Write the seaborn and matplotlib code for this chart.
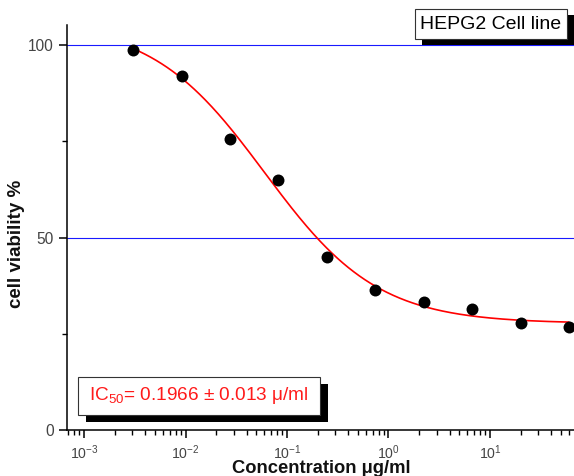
import numpy as np
import pandas as pd
import matplotlib
matplotlib.use("Agg")
import matplotlib.pyplot as plt
from matplotlib.patches import Rectangle
from matplotlib.ticker import LogLocator, NullFormatter, FixedLocator
import seaborn as sns

# Measured cell viability of HEPG2 cells after treatment (threefold dilution series)
concentration = [0.00305, 0.00914, 0.0274, 0.0823, 0.247, 0.741, 2.22, 6.67, 20.0, 60.0]
viability = [98.7, 91.9, 75.5, 64.9, 45.0, 36.4, 33.3, 31.4, 27.7, 26.8]

# Dose-response (4-parameter logistic) fit parameters
fit_bottom = 27.67
fit_top = 106.03
fit_log_x0 = -1.22
fit_hill = 0.78

y_ticks = [0, 50, 100]
y_minor_ticks = [25, 75]
ref_levels = [50, 100]

title_text = "HEPG2 Cell line"
ic50_text = "IC$_\\mathregular{50}$= 0.1966 ± 0.013 μ/ml"

sns.set_theme(style="ticks")
plt.rcParams["font.family"] = ["Liberation Sans", "DejaVu Sans"]
plt.rcParams["mathtext.fontset"] = "custom"
plt.rcParams["mathtext.rm"] = "Liberation Sans"
plt.rcParams["mathtext.it"] = "Liberation Sans:italic"
plt.rcParams["mathtext.bf"] = "Liberation Sans:bold"

W, H = 574, 476
fig = plt.figure(figsize=(W / 100, H / 100), dpi=100)


def fx(px):
    return px / W


def fy(py):
    return 1 - py / H


ax = fig.add_axes([fx(67), fy(430), fx(574 - 67), (430 - 25) / H])

df = pd.DataFrame({"conc": concentration, "viab": viability})

# smooth fitted curve over the measured range
xs = np.logspace(np.log10(concentration[0]), np.log10(concentration[-1]), 400)
ys = fit_bottom + (fit_top - fit_bottom) / (1 + 10 ** (fit_hill * (np.log10(xs) - fit_log_x0)))
curve = pd.DataFrame({"conc": xs, "viab": ys})

for lvl in ref_levels:
    ax.axhline(lvl, color="#1a1aff", lw=0.8, zorder=1)

sns.lineplot(data=curve, x="conc", y="viab", color="#ff0000", lw=1.2, ax=ax, zorder=2)
sns.scatterplot(data=df, x="conc", y="viab", color="black", s=74, linewidth=0,
                ax=ax, zorder=3, clip_on=False)

ax.set_xscale("log")
ax.set_xlim(10 ** -3.1675, 10 ** 1.8276)
ax.set_ylim(0, 105.2)
ax.yaxis.set_major_locator(FixedLocator(y_ticks))
ax.yaxis.set_minor_locator(FixedLocator(y_minor_ticks))
ax.xaxis.set_major_locator(LogLocator(base=10, numticks=12))
ax.xaxis.set_minor_locator(LogLocator(base=10, subs=np.arange(2, 10), numticks=12))
ax.xaxis.set_minor_formatter(NullFormatter())

for side in ["top", "right"]:
    ax.spines[side].set_visible(False)
for side in ["left", "bottom"]:
    ax.spines[side].set_linewidth(1.1)
    ax.spines[side].set_color("black")

ax.tick_params(axis="both", which="major", direction="out", length=5.8, width=1.1,
               color="black", labelcolor="#444444")
ax.tick_params(axis="both", which="minor", direction="out", length=3.4, width=1.0, color="black")
ax.tick_params(axis="y", which="major", labelsize=11.2, pad=3.5)
ax.tick_params(axis="x", which="major", labelsize=10.2, pad=3.5)
ax.set_xlabel("")
ax.set_ylabel("")

fig.text(fx(17), fy(244), "cell viability %", rotation=90, ha="center", va="center",
         fontsize=13.5, fontweight="bold", color="#111111")
fig.text(fx(321), fy(473), "Concentration μg/ml", ha="center", va="baseline",
         fontsize=13.2, fontweight="bold", color="#111111")


def shadow_box(x0, y0, x1, y1, dx, dy):
    fig.patches.append(Rectangle((fx(x0 + dx), fy(y1 + dy)), fx(x1 - x0), (y1 - y0) / H,
                                 transform=fig.transFigure, facecolor="black",
                                 edgecolor="none", zorder=5))
    fig.patches.append(Rectangle((fx(x0), fy(y1)), fx(x1 - x0), (y1 - y0) / H,
                                 transform=fig.transFigure, facecolor="white",
                                 edgecolor="#333333", lw=0.8, zorder=6))


shadow_box(415, 9, 567, 39, 7, 6)
fig.text(fx(491), fy(24.5), title_text, ha="center", va="center", fontsize=14,
         color="black", zorder=7)

shadow_box(78, 377, 320, 415, 8, 7)
fig.text(fx(89), fy(396), ic50_text, ha="left", va="center", fontsize=13.7,
         color="#ff1a1a", zorder=7)

fig.savefig("out.png", dpi=100)
